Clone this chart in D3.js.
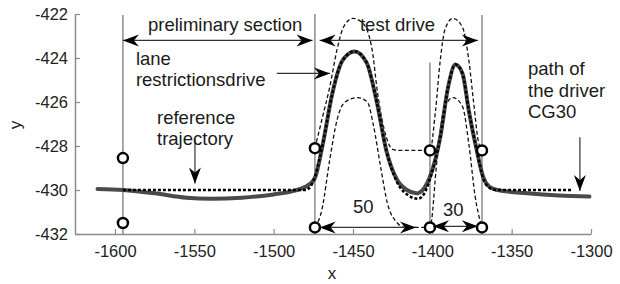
<!DOCTYPE html>
<html lang="en">
<head>
<meta charset="utf-8">
<title>Lane change test drive</title>
<script src="https://d3js.org/d3.v7.min.js"></script>
<style>
  body { margin: 0; background: #fff; }
  svg { display: block; font-family: "Liberation Sans", Arial, sans-serif; }
</style>
</head>
<body>
<svg id="chart" width="620" height="284"></svg>
<script>
// ---- data ----
const xTicks = [-1600, -1550, -1500, -1450, -1400, -1350, -1300];
const yTicks = [-432, -430, -428, -426, -424, -422];

// path of the driver CG30 (thick grey)
const driverX = [-1611, -1595, -1575, -1555, -1540, -1520, -1500, -1488, -1480, -1476, -1474, -1469, -1463, -1456.5, -1449, -1441.5, -1435, -1429, -1422.5, -1416, -1410, -1405, -1401.5, -1395, -1390, -1385.5, -1381, -1377, -1372, -1368, -1364, -1359, -1340, -1320, -1301];
const driverY = [-429.95, -430.0, -430.15, -430.35, -430.4, -430.35, -430.2, -430.05, -429.85, -429.65, -429.45, -427.9, -425.6, -424.1, -423.7, -424.2, -426.0, -428.2, -429.5, -430.0, -430.15, -429.9, -429.4, -427.6, -425.3, -424.3, -424.7, -426.4, -428.2, -429.4, -429.85, -430.0, -430.15, -430.25, -430.3];

// reference trajectory (black dotted)
const refX = [-1595, -1480, -1476, -1474, -1469, -1463, -1456.5, -1449, -1441.5, -1435, -1429, -1422.5, -1415, -1409, -1404, -1401.5, -1395, -1390, -1385.5, -1381, -1377, -1372, -1368, -1364, -1360, -1312];
const refY = [-430.0, -430.0, -429.75, -429.4, -427.9, -425.6, -424.1, -423.7, -424.2, -426.0, -428.2, -429.6, -430.25, -430.4, -430.0, -429.5, -427.6, -425.3, -424.3, -424.7, -426.4, -428.2, -429.45, -429.9, -430.0, -430.0];

// lane restrictions, upper and lower (thin dashed)
const upperX = [-1474, -1469.6, -1464.6, -1460, -1456, -1450, -1444, -1438, -1434.5, -1429, -1425, -1420, -1401.5, -1398, -1395, -1392, -1387, -1381, -1377, -1374, -1371, -1368.7];
const upperY = [-428.1, -426.8, -425.3, -423.6, -422.6, -422.2, -422.4, -423.6, -425.6, -427.6, -428.15, -428.2, -428.2, -426.4, -424.1, -422.7, -422.2, -422.6, -424.1, -426.0, -427.8, -428.2];
const lowerX = [-1474, -1469.6, -1464.6, -1460, -1455, -1447, -1441, -1437, -1432.7, -1428.3, -1422, -1418, -1401.5, -1397, -1393, -1387, -1381, -1377, -1373, -1368.7];
const lowerY = [-431.7, -430.9, -428.6, -426.8, -426.0, -425.8, -426.0, -427.1, -428.9, -430.6, -431.5, -431.7, -431.7, -428.6, -426.4, -425.8, -426.2, -427.9, -430.3, -431.7];

// section boundaries (vertical grey lines) and their markers
const gateX = [-1595, -1474, -1401.5, -1368.7];
const gateTop = [-422.05, -422.0, -424.2, -422.05];
const markerX = [-1595, -1595, -1474, -1474, -1401.5, -1401.5, -1368.7, -1368.7];
const markerY = [-428.55, -431.5, -428.1, -431.7, -428.2, -431.7, -428.2, -431.7];

// arrows: [x1, y1, x2, y2, double-headed]
const arrowList = [
  [-1595, -423.2, -1475.5, -423.2, true],
  [-1471, -423.2, -1371.3, -423.2, true],
  [-1498, -424.7, -1464.5, -424.7, false],
  [-1549.6, -427.7, -1549.6, -429.7, false],
  [-1307, -427.6, -1307, -430.05, false],
  [-1471, -431.7, -1410.3, -431.7, true],
  [-1399.6, -431.65, -1371.3, -431.65, true]
];

// annotation texts: [text, x, y]
const labels = [
  ["preliminary section", -1579.2, -422.77],
  ["test drive", -1445.6, -422.77],
  ["lane", -1586.8, -424.32],
  ["restrictionsdrive", -1586.8, -425.25],
  ["reference", -1573.5, -427.0],
  ["trajectory", -1573.5, -427.95],
  ["path of", -1339.7, -424.77],
  ["the driver", -1339.7, -425.77],
  ["CG30", -1339.7, -426.73],
  ["50", -1450, -431.05],
  ["30", -1393.3, -431.18]
];

// ---- drawing ----
const svg = d3.select("#chart");
const x = d3.scaleLinear().domain([-1625.2, -1300]).range([75, 591]);
const y = d3.scaleLinear().domain([-432, -422]).range([234, 14]);

const line = (xs, ys) => d3.line()
  .x(i => x(xs[i]))
  .y(i => y(ys[i]))
  .curve(d3.curveMonotoneX)(d3.range(xs.length));

// vertical grey lines
svg.append("g").selectAll("line")
  .data(gateX)
  .join("line")
  .attr("x1", d => x(d)).attr("x2", d => x(d))
  .attr("y1", (d, i) => y(gateTop[i])).attr("y2", y(-432))
  .attr("stroke", "#8c8c8c").attr("stroke-width", 1.5);

// axes (plain hyphen minus, no thousands separator)
const axisColor = "#8c8c8c";
const fmt = d => String(d);
const gx = svg.append("g")
  .attr("transform", `translate(0,${y(-432)})`)
  .call(d3.axisBottom(x).tickValues(xTicks).tickFormat(fmt).tickSizeInner(-5).tickSizeOuter(0).tickPadding(11));
const gy = svg.append("g")
  .attr("transform", `translate(${x(-1625.2)},0)`)
  .call(d3.axisLeft(y).tickValues(yTicks).tickFormat(fmt).tickSizeInner(-5).tickSizeOuter(0).tickPadding(7));
[gx, gy].forEach(g => {
  g.select(".domain").attr("stroke", axisColor).attr("stroke-width", 1.5);
  g.selectAll(".tick line").attr("stroke", axisColor).attr("stroke-width", 1.2);
  g.selectAll(".tick text").attr("fill", "#222").attr("font-size", 16.5)
    .attr("font-family", "Liberation Sans, Arial, sans-serif");
});

svg.append("text").attr("x", 332).attr("y", 279)
  .attr("text-anchor", "middle").attr("font-size", 17).attr("fill", "#222").text("x");
svg.append("text").attr("transform", "translate(21,125) rotate(-90)")
  .attr("text-anchor", "middle").attr("font-size", 17).attr("fill", "#222").text("y");

// lane restrictions
[[upperX, upperY], [lowerX, lowerY]].forEach(([xs, ys]) => {
  svg.append("path").attr("d", line(xs, ys))
    .attr("fill", "none").attr("stroke", "#111")
    .attr("stroke-width", 1.3).attr("stroke-dasharray", "4,2.5");
});

// driver path
svg.append("path").attr("d", line(driverX, driverY))
  .attr("fill", "none").attr("stroke", "#4a4a4a").attr("stroke-width", 4)
  .attr("stroke-linecap", "round");

// reference trajectory
svg.append("path").attr("d", line(refX, refY))
  .attr("fill", "none").attr("stroke", "#000").attr("stroke-width", 2.6)
  .attr("stroke-dasharray", "3,2");

// markers
svg.append("g").selectAll("circle")
  .data(markerX)
  .join("circle")
  .attr("cx", d => x(d)).attr("cy", (d, i) => y(markerY[i]))
  .attr("r", 5).attr("fill", "#fff").attr("stroke", "#000").attr("stroke-width", 2.5);

// arrows with barbed heads
function head(tx, ty, ang) {
  const L = 16, W = 6, N = 11;
  const c = Math.cos(ang), s = Math.sin(ang);
  const pt = (a, b) => [tx - a * c + b * s, ty - a * s - b * c];
  return "M" + [pt(0, 0), pt(L, W), pt(N, 0), pt(L, -W)].map(p => p.join(",")).join("L") + "Z";
}
const ag = svg.append("g");
arrowList.forEach(([x1, y1, x2, y2, both]) => {
  const px1 = x(x1), py1 = y(y1), px2 = x(x2), py2 = y(y2);
  const ang = Math.atan2(py2 - py1, px2 - px1);
  ag.append("line").attr("x1", px1).attr("y1", py1).attr("x2", px2).attr("y2", py2)
    .attr("stroke", "#333").attr("stroke-width", 1.2);
  ag.append("path").attr("d", head(px2, py2, ang)).attr("fill", "#000");
  if (both) ag.append("path").attr("d", head(px1, py1, ang + Math.PI)).attr("fill", "#000");
});

// annotation texts
svg.append("g").selectAll("text")
  .data(labels)
  .join("text")
  .attr("x", d => x(d[1])).attr("y", d => y(d[2]))
  .attr("font-size", 18.5).attr("fill", "#1a1a1a")
  .text(d => d[0]);
</script>
</body>
</html>
